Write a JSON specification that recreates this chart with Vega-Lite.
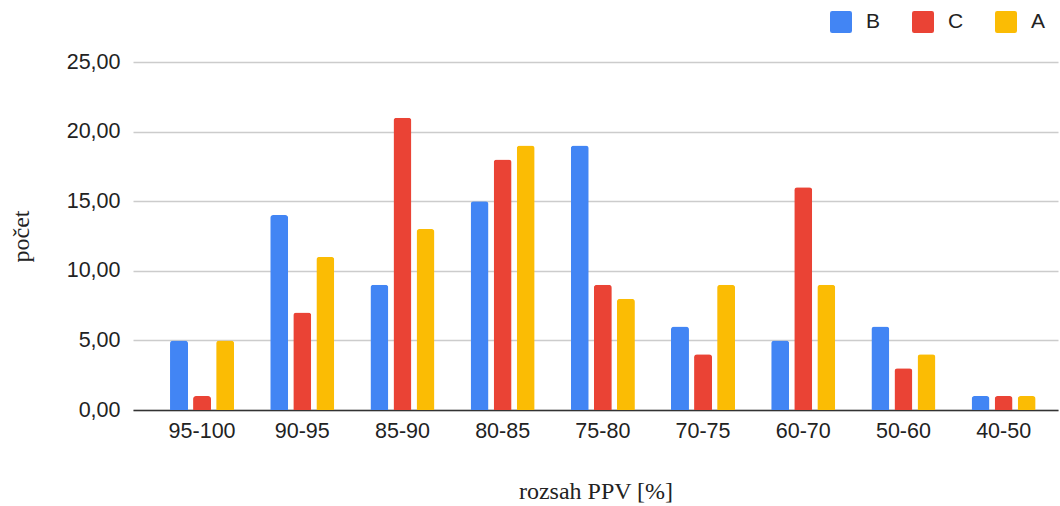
{
  "$schema": "https://vega.github.io/schema/vega-lite/v6.json",
  "width": 925,
  "height": 348,
  "autosize": {"type": "none"},
  "padding": {"left": 133, "top": 62, "right": 2, "bottom": 96},
  "background": "white",
  "config": {
    "view": {"stroke": null},
    "font": "Liberation Sans"
  },
  "data": {
    "values": [
      {"range": "95-100", "series": "B", "count": 5},
      {"range": "95-100", "series": "C", "count": 1},
      {"range": "95-100", "series": "A", "count": 5},
      {"range": "90-95", "series": "B", "count": 14},
      {"range": "90-95", "series": "C", "count": 7},
      {"range": "90-95", "series": "A", "count": 11},
      {"range": "85-90", "series": "B", "count": 9},
      {"range": "85-90", "series": "C", "count": 21},
      {"range": "85-90", "series": "A", "count": 13},
      {"range": "80-85", "series": "B", "count": 15},
      {"range": "80-85", "series": "C", "count": 18},
      {"range": "80-85", "series": "A", "count": 19},
      {"range": "75-80", "series": "B", "count": 19},
      {"range": "75-80", "series": "C", "count": 9},
      {"range": "75-80", "series": "A", "count": 8},
      {"range": "70-75", "series": "B", "count": 6},
      {"range": "70-75", "series": "C", "count": 4},
      {"range": "70-75", "series": "A", "count": 9},
      {"range": "60-70", "series": "B", "count": 5},
      {"range": "60-70", "series": "C", "count": 16},
      {"range": "60-70", "series": "A", "count": 9},
      {"range": "50-60", "series": "B", "count": 6},
      {"range": "50-60", "series": "C", "count": 3},
      {"range": "50-60", "series": "A", "count": 4},
      {"range": "40-50", "series": "B", "count": 1},
      {"range": "40-50", "series": "C", "count": 1},
      {"range": "40-50", "series": "A", "count": 1}
    ]
  },
  "mark": {"type": "bar", "cornerRadiusTopLeft": 3, "cornerRadiusTopRight": 3},
  "encoding": {
    "x": {
      "field": "range",
      "type": "nominal",
      "sort": ["95-100", "90-95", "85-90", "80-85", "75-80", "70-75", "60-70", "50-60", "40-50"],
      "scale": {"paddingInner": 0.36, "paddingOuter": 0.296, "align": 0.624},
      "axis": {
        "title": "rozsah PPV [%]",
        "titleFont": "Liberation Serif",
        "titleFontSize": 24,
        "titleFontWeight": "normal",
        "titleColor": "#222222",
        "titlePadding": 38,
        "labelAngle": 0,
        "labelFontSize": 21.5,
        "labelColor": "#222222",
        "labelPadding": 10,
        "ticks": false,
        "domainColor": "#333333",
        "domainWidth": 1.5
      }
    },
    "xOffset": {
      "field": "series",
      "type": "nominal",
      "sort": ["B", "C", "A"],
      "scale": {"paddingInner": 0.22, "paddingOuter": 0}
    },
    "y": {
      "field": "count",
      "type": "quantitative",
      "scale": {"domain": [0, 25], "nice": false},
      "axis": {
        "values": [0, 5, 10, 15, 20, 25],
        "format": ".2f",
        "labelExpr": "replace(datum.label, '.', ',')",
        "title": "počet",
        "titleFont": "Liberation Serif",
        "titleFontSize": 24,
        "titleFontWeight": "normal",
        "titleColor": "#222222",
        "titlePadding": 33,
        "labelFontSize": 21.5,
        "labelColor": "#222222",
        "labelPadding": 13,
        "ticks": false,
        "domain": false,
        "gridColor": "#cccccc",
        "gridWidth": 1.5
      }
    },
    "color": {
      "field": "series",
      "type": "nominal",
      "sort": ["B", "C", "A"],
      "scale": {"domain": ["B", "C", "A"], "range": ["#4285F4", "#EA4335", "#FBBC04"]},
      "legend": {
        "title": null,
        "orient": "none",
        "direction": "horizontal",
        "legendX": 697,
        "legendY": -51,
        "padding": 0,
        "symbolType": "M-0.8,-1H0.8Q1,-1 1,-0.8V0.8Q1,1 0.8,1H-0.8Q-1,1 -1,0.8V-0.8Q-1,-1 -0.8,-1Z",
        "symbolSize": 484,
        "symbolStrokeWidth": 0,
        "symbolOpacity": 1,
        "labelFontSize": 21,
        "labelColor": "#222222",
        "labelOffset": 14,
        "columnPadding": 31
      }
    }
  }
}
